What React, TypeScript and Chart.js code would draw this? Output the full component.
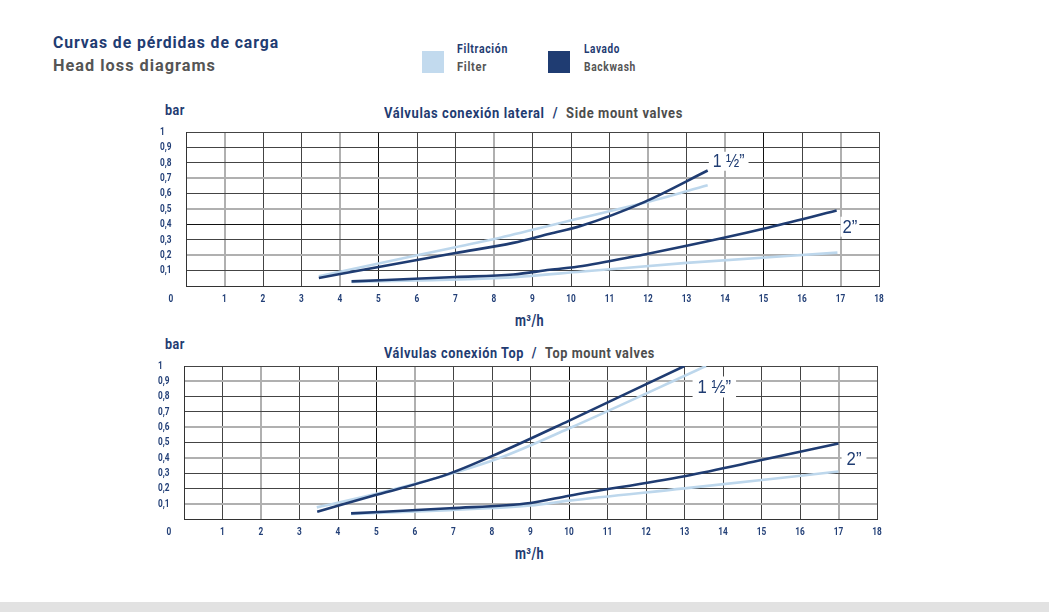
import React, { useEffect, useLayoutEffect, useRef } from 'react';
import { Chart, registerables } from 'chart.js';

Chart.register(...registerables);

const NAVY = '#1f3c72';
const LIGHT = '#bdd7ec';
const TICK = '#223f77';
const GRAY_TXT = '#555555';
const FONT = 'Roboto, "Liberation Sans", sans-serif';
const LBL_FONT = '"Liberation Sans", Roboto, sans-serif';

// ---------- axes ----------
const ticksX = [0, 1, 2, 3, 4, 5, 6, 7, 8, 9, 10, 11, 12, 13, 14, 15, 16, 17, 18];
const ticksY = [0, 0.1, 0.2, 0.3, 0.4, 0.5, 0.6, 0.7, 0.8, 0.9, 1];

// ---------- data: side mount valves ----------
const sideBack15X = [3.45, 5, 7, 8.5, 9.45, 10.25, 11.9, 13.55];
const sideBack15Y = [0.052, 0.124, 0.214, 0.28, 0.34, 0.39, 0.545, 0.75];
const sideFilt15X = [3.45, 5, 7, 8.16, 10.23, 11.9, 13.55];
const sideFilt15Y = [0.063, 0.146, 0.252, 0.314, 0.44, 0.54, 0.655];
const sideBack2X = [4.3, 7, 8.5, 9.45, 10.3, 12, 14, 15, 16.9];
const sideBack2Y = [0.03, 0.058, 0.075, 0.105, 0.13, 0.21, 0.315, 0.372, 0.49];
const sideFilt2X = [4.3, 6, 8.16, 10.3, 13, 16.92];
const sideFilt2Y = [0.026, 0.036, 0.052, 0.094, 0.15, 0.217];

// ---------- data: top mount valves ----------
const topBack15X = [3.46, 5, 6.82, 8.21, 9.98, 13];
const topBack15Y = [0.048, 0.158, 0.29, 0.435, 0.64, 1.0];
const topFilt15X = [3.45, 5, 6.82, 8.21, 9.98, 13.56];
const topFilt15Y = [0.076, 0.165, 0.287, 0.4, 0.59, 1.0];
const topBack2X = [4.34, 6.9, 9, 10, 13, 15, 17];
const topBack2Y = [0.037, 0.07, 0.105, 0.152, 0.28, 0.385, 0.494];
const topFilt2X = [4.34, 6.9, 9, 10, 13, 17];
const topFilt2Y = [0.033, 0.058, 0.088, 0.12, 0.2, 0.31];

const pts = (xs: number[], ys: number[]) => xs.map((x, i) => ({ x, y: ys[i] }));

const ds = (xs: number[], ys: number[], color: string) => ({
  data: pts(xs, ys),
  borderColor: color,
  backgroundColor: color,
  borderWidth: 2.6,
  pointRadius: 0,
  tension: 0.25,
  cubicInterpolationMode: 'monotone' as const,
  fill: false,
});

const r1 = (v: number) => Math.round(v * 10) / 10;

type Lbl = { text: string; x: number; y: number; size: number; pad: number; h: number };

const TICK_SX = 0.72;
const LBL_SX = 0.88;

const annotate = {
  id: 'annotate',
  afterDatasetsDraw(chart: any, _args: any, opts: any) {
    const { ctx } = chart;
    const x = chart.scales.x;
    const y = chart.scales.y;
    ctx.save();
    ctx.font = `bold 11.5px ${FONT}`;
    ctx.fillStyle = TICK;
    ctx.textBaseline = 'middle';
    // x tick labels (0 sits left of the axis origin, as in the original)
    ctx.textAlign = 'center';
    ticksX.forEach((v) => {
      const px = v === 0 ? x.left - 15 : x.getPixelForValue(v);
      ctx.save();
      ctx.translate(px, x.top + 13);
      ctx.scale(TICK_SX, 1);
      ctx.fillText(String(v), 0, 0);
      ctx.restore();
    });
    // y tick labels, left aligned
    ctx.textAlign = 'left';
    ticksY.forEach((v) => {
      if (r1(v) === 0) return;
      const py = y.getPixelForValue(v);
      ctx.save();
      ctx.translate(y.left, py);
      ctx.scale(TICK_SX, 1);
      ctx.fillText(String(r1(v)).replace('.', ','), 0, 0);
      ctx.restore();
    });
    // size labels on white boxes
    (opts.labels as Lbl[]).forEach((l) => {
      ctx.font = `${l.size}px ${LBL_FONT}`;
      const w = ctx.measureText(l.text).width * LBL_SX + 2 * l.pad;
      const px = x.getPixelForValue(l.x);
      const py = y.getPixelForValue(l.y);
      ctx.fillStyle = '#ffffff';
      ctx.fillRect(px, py - l.h / 2, w, l.h);
      ctx.fillStyle = NAVY;
      ctx.textAlign = 'left';
      ctx.textBaseline = 'middle';
      ctx.save();
      ctx.translate(px + l.pad, py + 1);
      ctx.scale(LBL_SX, 1);
      ctx.fillText(l.text, 0, 0);
      ctx.restore();
    });
    ctx.restore();
  },
};

function makeConfig(
  datasets: any[],
  grayX: number[],
  blackX: number[],
  grayY: number[],
  blackY: number[],
  labels: Lbl[]
): any {
  const gridColor = (gray: number[], black: number[]) => (c: any) => {
    const v = r1(c.tick ? c.tick.value : 0);
    if (gray.includes(v)) return '#b0b0b0';
    if (black.includes(v)) return '#111111';
    return '#444444';
  };
  const gridWidth = (gray: number[]) => (c: any) => {
    const v = r1(c.tick ? c.tick.value : 0);
    return gray.includes(v) ? 2 : 1;
  };
  return {
    type: 'line',
    data: { datasets },
    plugins: [annotate],
    options: {
      animation: false,
      responsive: false,
      maintainAspectRatio: false,
      layout: { padding: { left: 10, right: 21, top: 12, bottom: 0 } },
      plugins: {
        legend: { display: false },
        tooltip: { enabled: false },
        annotate: { labels },
      },
      scales: {
        x: {
          type: 'linear',
          min: 0,
          max: 18,
          afterBuildTicks: (s: any) => {
            s.ticks = ticksX.map((v) => ({ value: v }));
          },
          afterFit: (s: any) => {
            s.height = 24;
          },
          grid: { color: gridColor(grayX, blackX), lineWidth: gridWidth(grayX), drawTicks: false },
          border: { display: true, color: '#333333', width: 1 },
          ticks: { display: false },
        },
        y: {
          type: 'linear',
          min: 0,
          max: 1,
          afterBuildTicks: (s: any) => {
            s.ticks = ticksY.map((v) => ({ value: v }));
          },
          afterFit: (s: any) => {
            s.width = 26;
          },
          grid: { color: gridColor(grayY, blackY), lineWidth: gridWidth(grayY), drawTicks: false },
          border: { display: true, color: '#333333', width: 1 },
          ticks: { display: false },
        },
      },
    },
  };
}

function ChartCanvas(props: { config: () => any; left: number; top: number; width: number; height: number }) {
  const ref = useRef<HTMLCanvasElement | null>(null);
  useEffect(() => {
    if (!ref.current) return;
    const chart = new Chart(ref.current, props.config());
    return () => chart.destroy();
  }, []);
  return (
    <canvas
      ref={ref}
      width={props.width}
      height={props.height}
      style={{ position: 'absolute', left: props.left, top: props.top, width: props.width, height: props.height }}
    />
  );
}

// Text squeezed horizontally to the condensed width of the original type
function T(props: {
  x: number;
  cy: number;
  size: number;
  width: number;
  color: string;
  weight?: string | number;
  spacing?: number;
  children: React.ReactNode;
}) {
  const ref = useRef<HTMLDivElement | null>(null);
  useLayoutEffect(() => {
    const el = ref.current;
    if (!el) return;
    el.style.transform = 'none';
    const w = el.getBoundingClientRect().width;
    if (w > 0) el.style.transform = `scaleX(${props.width / w})`;
  }, []);
  return (
    <div
      ref={ref}
      style={{
        position: 'absolute',
        left: props.x,
        top: props.cy - props.size * 0.487,
        fontSize: props.size,
        lineHeight: `${props.size}px`,
        fontFamily: FONT,
        fontWeight: props.weight ?? 'bold',
        color: props.color,
        letterSpacing: props.spacing ?? 0.6,
        whiteSpace: 'nowrap',
        display: 'inline-block',
        transformOrigin: '0 0',
      }}
    >
      {props.children}
    </div>
  );
}

const sideConfig = () =>
  makeConfig(
    [
      ds(sideBack15X, sideBack15Y, NAVY),
      ds(sideBack2X, sideBack2Y, NAVY),
      ds(sideFilt15X, sideFilt15Y, LIGHT),
      ds(sideFilt2X, sideFilt2Y, LIGHT),
    ],
    [1, 4, 8, 12, 14, 17],
    [5, 15],
    [0.2, 0.5, 0.7],
    [0.4],
    [
      { text: '1 \u00BD\u201D', x: 13.58, y: 0.81, size: 18, pad: 4, h: 19 },
      { text: '2\u201D', x: 17.0, y: 0.385, size: 19, pad: 2, h: 20 },
    ]
  );

const topConfig = () =>
  makeConfig(
    [
      ds(topBack15X, topBack15Y, NAVY),
      ds(topBack2X, topBack2Y, NAVY),
      ds(topFilt15X, topFilt15Y, LIGHT),
      ds(topFilt2X, topFilt2Y, LIGHT),
    ],
    [2, 6, 17],
    [5, 10],
    [0.1, 0.4, 0.6, 0.9],
    [],
    [
      { text: '1 \u00BD\u201D', x: 13.21, y: 0.863, size: 19, pad: 5, h: 21 },
      { text: '2\u201D', x: 17.08, y: 0.392, size: 19, pad: 5, h: 22 },
    ]
  );

export default function App() {
  return (
    <div
      style={{
        position: 'absolute',
        left: 0,
        top: 0,
        width: 1049,
        height: 612,
        overflow: 'hidden',
        background: '#ffffff',
      }}
    >
      <T x={53} cy={42.5} size={17} width={226} color={NAVY} spacing={1}>
        Curvas de pérdidas de carga
      </T>
      <T x={53} cy={66} size={16} width={163} color={GRAY_TXT} spacing={1}>
        Head loss diagrams
      </T>

      <div style={{ position: 'absolute', left: 422, top: 51, width: 22, height: 22, background: '#c2daee' }} />
      <T x={457} cy={49.5} size={12.5} width={51} color={NAVY} spacing={0.8}>
        Filtración
      </T>
      <T x={457} cy={67.5} size={12.5} width={30} color={GRAY_TXT} spacing={0.8}>
        Filter
      </T>
      <div style={{ position: 'absolute', left: 548, top: 51, width: 22, height: 22, background: '#1f3c72' }} />
      <T x={584} cy={49.5} size={12.5} width={36} color={NAVY} spacing={0.8}>
        Lavado
      </T>
      <T x={584} cy={67.5} size={12.5} width={52} color={GRAY_TXT} spacing={0.8}>
        Backwash
      </T>

      <T x={165} cy={110} size={14} width={20} color={NAVY}>
        bar
      </T>
      <T x={384} cy={113.7} size={14.5} width={299} color={NAVY} spacing={0.7}>
        Válvulas conexión lateral
        <span style={{ margin: '0 9px' }}>/</span>
        <span style={{ color: '#4d4d4d' }}>Side mount valves</span>
      </T>
      <ChartCanvas config={sideConfig} left={150} top={120} width={750} height={190} />
      <T x={515} cy={321} size={16} width={29} color={NAVY} spacing={0.5}>
        m³/h
      </T>

      <T x={165} cy={344} size={14} width={20} color={NAVY}>
        bar
      </T>
      <T x={384} cy={354.5} size={14.5} width={271} color={NAVY} spacing={0.7}>
        Válvulas conexión Top
        <span style={{ margin: '0 9px' }}>/</span>
        <span style={{ color: '#4d4d4d' }}>Top mount valves</span>
      </T>
      <ChartCanvas config={topConfig} left={148} top={354} width={750} height={189} />
      <T x={515} cy={554} size={16} width={29} color={NAVY} spacing={0.5}>
        m³/h
      </T>

      <div style={{ position: 'absolute', left: 0, top: 602, width: 1049, height: 10, background: '#e2e2e2' }} />
    </div>
  );
}
